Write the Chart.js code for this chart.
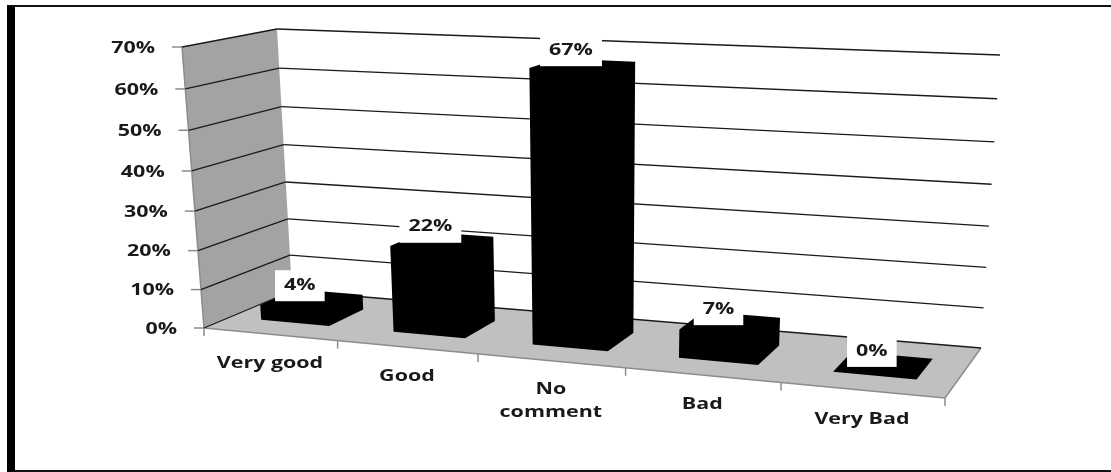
<!DOCTYPE html>
<html>
<head>
<meta charset="utf-8">
<script src="https://cdn.jsdelivr.net/npm/chart.js@4/dist/chart.umd.min.js"></script>
<style>
  html, body { margin: 0; padding: 0; background: #fff; overflow: hidden; }
  #frame {
    position: absolute; left: 7px; top: 5px; width: 1104px; height: 467px;
    box-sizing: border-box;
    border-left: 8px solid #000; border-top: 2px solid #111; border-bottom: 2px solid #111;
  }
  #chart { position: absolute; left: 0; top: 0; }
</style>
</head>
<body>
<div id="frame"></div>
<canvas id="chart" width="1111" height="472"></canvas>
<script>
const categories = [["Very good"], ["Good"], ["No", "comment"], ["Bad"], ["Very Bad"]];
const percents = [4, 22, 67, 7, 0];
const axisMax = 70;
const axisStep = 10;

// corners of the 3D box: floor and roof, front then back, left then right
const floorFL = [204, 328], floorFR = [945, 398], floorBL = [292, 291], floorBR = [981, 348];
const roofFL = [182, 47], roofFR = [965, 82], roofBL = [277, 29], roofBR = [1000, 55];
const xFalloff = -0.12;
const yFalloff = -0.05;
const depthFront = 0.3;
const depthBack = 0.72;

const labelFont = "bold 16.5px 'Open Sans'";
const labelStretch = 1.3;

function warp(t, g) {
  return t * (1 + g) / (1 + g * t);
}

function lerp(a, b, t) {
  return [a[0] + (b[0] - a[0]) * t, a[1] + (b[1] - a[1]) * t];
}

// u along the categories, v into the depth, w up the value axis (all 0..1)
function project(u, v, w) {
  const s = warp(u, xFalloff);
  const h = warp(w, yFalloff);
  const base = lerp(lerp(floorFL, floorFR, s), lerp(floorBL, floorBR, s), v);
  const top = lerp(lerp(roofFL, roofFR, s), lerp(roofBL, roofBR, s), v);
  return lerp(base, top, h);
}

function fillPoly(ctx, points, color) {
  ctx.beginPath();
  points.forEach((p, i) => (i ? ctx.lineTo(p[0], p[1]) : ctx.moveTo(p[0], p[1])));
  ctx.closePath();
  ctx.fillStyle = color;
  ctx.fill();
}

function strokeLine(ctx, a, b, color, width) {
  ctx.beginPath();
  ctx.moveTo(a[0], a[1]);
  ctx.lineTo(b[0], b[1]);
  ctx.strokeStyle = color;
  ctx.lineWidth = width;
  ctx.stroke();
}

// the labels are wide, so the text gets stretched sideways
function wideText(ctx, text, x, y, align) {
  ctx.save();
  ctx.translate(x, y);
  ctx.scale(labelStretch, 1);
  ctx.font = labelFont;
  ctx.fillStyle = "#1a1a1a";
  ctx.textAlign = align;
  ctx.textBaseline = "middle";
  ctx.fillText(text, 0, 0);
  ctx.restore();
}

const perspectiveBox = {
  id: "perspectiveBox",
  beforeDatasetsDraw(chart) {
    const { ctx, chartArea: area, scales } = chart;
    const toW = (value) => (area.bottom - scales.y.getPixelForValue(value)) / area.height;
    const toU = (x) => (x - area.left) / area.width;

    fillPoly(ctx, [floorFL, floorFR, floorBR, floorBL], "#c0c0c0");
    fillPoly(ctx, [floorFL, floorBL, roofBL, roofFL], "#a3a3a3");

    strokeLine(ctx, floorFL, roofFL, "#8c8c8c", 1.5);
    strokeLine(ctx, floorFL, floorFR, "#8c8c8c", 1.5);
    strokeLine(ctx, floorFR, floorBR, "#8c8c8c", 1.5);

    scales.y.ticks.forEach((tick) => {
      const w = toW(tick.value);
      const front = project(0, 0, w);
      const corner = project(0, 1, w);
      const end = project(1, 1, w);
      strokeLine(ctx, front, corner, "#1a1a1a", 1.3);
      strokeLine(ctx, corner, end, "#1a1a1a", 1.3);
      strokeLine(ctx, [front[0] - 10, front[1]], front, "#8c8c8c", 1.5);
      wideText(ctx, tick.label, front[0] - 27, front[1] + 1, "right");
    });

    // tick marks hang off the band edges, names sit below the band centres
    const bandCount = categories.length;
    for (let i = 0; i <= bandCount; i++) {
      const p = project(i / bandCount, 0, 0);
      strokeLine(ctx, p, [p[0], p[1] + 8], "#8c8c8c", 1.5);
    }
    categories.forEach((lines, i) => {
      const p = project(toU(scales.x.getPixelForValue(i)), 0, 0);
      lines.forEach((line, n) => wideText(ctx, line, p[0], p[1] + 29 + n * 23, "center"));
    });
  },
  afterDatasetsDraw(chart) {
    const { ctx, chartArea: area } = chart;
    const meta = chart.getDatasetMeta(0);
    meta.data.forEach((bar, i) => {
      const u0 = (bar.x - bar.width / 2 - area.left) / area.width;
      const u1 = (bar.x + bar.width / 2 - area.left) / area.width;
      const w = (bar.base - bar.y) / area.height;

      // all faces are solid black, so the outline of the block is enough
      fillPoly(ctx, [
        project(u0, depthFront, 0),
        project(u1, depthFront, 0),
        project(u1, depthBack, 0),
        project(u1, depthBack, w),
        project(u0, depthBack, w),
        project(u0, depthFront, w)
      ], "#000");

      // value tag: white box that sits on the top face of the bar
      const topMid = project((u0 + u1) / 2, 0.5, w);
      const text = percents[i] + "%";
      ctx.font = labelFont;
      const boxWidth = ctx.measureText(text).width * labelStretch + 18;
      const cx = topMid[0] - 11;
      const bottom = topMid[1] + 1;
      ctx.fillStyle = "#fff";
      ctx.fillRect(cx - boxWidth / 2, bottom - 31, boxWidth, 31);
      wideText(ctx, text, cx, bottom - 16, "center");
    });
  }
};

new Chart(document.getElementById("chart"), {
  type: "bar",
  data: {
    labels: categories,
    datasets: [{
      data: percents,
      backgroundColor: "rgba(0,0,0,0)",
      barPercentage: 0.52,
      categoryPercentage: 1
    }]
  },
  options: {
    responsive: false,
    animation: false,
    layout: { padding: { left: 204, right: 166, top: 47, bottom: 144 } },
    plugins: { legend: { display: false }, tooltip: { enabled: false } },
    scales: {
      x: { display: false },
      y: {
        display: false,
        min: 0,
        max: axisMax,
        ticks: { stepSize: axisStep, callback: (value) => value + "%" }
      }
    }
  },
  plugins: [perspectiveBox]
});
</script>
</body>
</html>
